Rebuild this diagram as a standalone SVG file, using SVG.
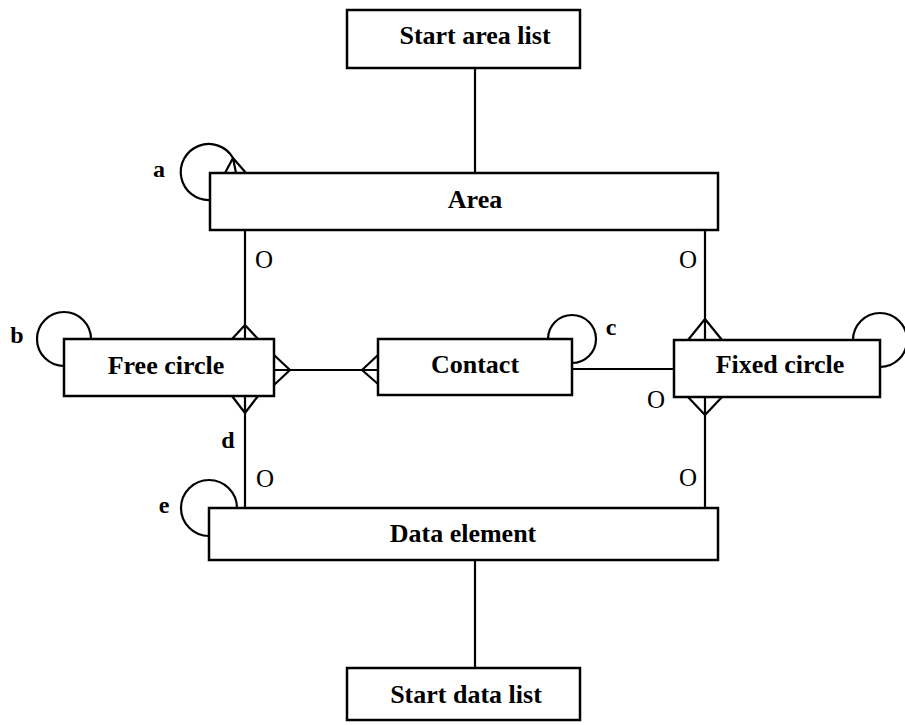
<svg xmlns="http://www.w3.org/2000/svg" width="905" height="725" viewBox="0 0 905 725">
<style>
.box{fill:#fff;stroke:#000;stroke-width:2.5}
.ln{fill:none;stroke:#000;stroke-width:2.2}
.t{font-family:"Liberation Serif",serif;font-weight:bold;font-size:26px;text-anchor:middle;fill:#000}
.l{font-family:"Liberation Serif",serif;font-weight:bold;font-size:24px;text-anchor:middle;fill:#000}
.o{font-family:"Liberation Serif",serif;font-size:25px;text-anchor:middle;fill:#000}
</style>
<rect width="905" height="725" fill="#fff"/>
<g id="connectors">
<path class="ln" d="M475,68 V173"/>
<path class="ln" d="M245,230 V339 M245,325 L232,339 M245,325 L258,339"/>
<path class="ln" d="M245,396 V508 M245,413 L232,396 M245,413 L258,396"/>
<path class="ln" d="M274,370 H378 M290,370 L274,355 M290,370 L274,385 M362,370 L378,355 M362,370 L378,384"/>
<path class="ln" d="M572,369 H674"/>
<path class="ln" d="M705,230 V340 M705,319 L688,340 M705,319 L722,340"/>
<path class="ln" d="M705,397 V508 M705,415 L688,397 M705,415 L722,397"/>
<path class="ln" d="M475,560 V668"/>
<path class="ln" d="M210,200 A28,28 0 1 1 233,158 M233,158 L225,173 M233,158 L236,173 M233,158 L246,173"/>
<path class="ln" d="M64,366 A27,27 0 1 1 91,339"/>
<path class="ln" d="M548,339 A24,24 0 1 1 572,363"/>
<path class="ln" d="M853,340 A27,27 0 1 1 880,367"/>
<path class="ln" d="M209,536 A28,28 0 1 1 237,508"/>
</g>
<g id="start-area-list"><rect class="box" x="347" y="10" width="233" height="58"/><text class="t" x="475" y="44">Start area list</text></g>
<g id="area"><rect class="box" x="210" y="173" width="508" height="57"/><text class="t" x="475" y="208">Area</text></g>
<g id="free-circle"><rect class="box" x="64" y="339" width="210" height="57"/><text class="t" x="166" y="374">Free circle</text></g>
<g id="contact"><rect class="box" x="378" y="339" width="194" height="56"/><text class="t" x="475" y="373">Contact</text></g>
<g id="fixed-circle"><rect class="box" x="674" y="340" width="206" height="57"/><text class="t" x="780" y="373">Fixed circle</text></g>
<g id="data-element"><rect class="box" x="209" y="508" width="509" height="52"/><text class="t" x="463" y="542">Data element</text></g>
<g id="start-data-list"><rect class="box" x="347" y="668" width="233" height="52"/><text class="t" x="466" y="703">Start data list</text></g>
<g id="labels">
<text class="l" x="159" y="177">a</text>
<text class="l" x="17" y="343">b</text>
<text class="l" x="611" y="335">c</text>
<text class="l" x="228" y="448">d</text>
<text class="l" x="164" y="513">e</text>
<text class="o" x="264" y="268">O</text>
<text class="o" x="688" y="268">O</text>
<text class="o" x="656" y="408">O</text>
<text class="o" x="265" y="487">O</text>
<text class="o" x="688" y="486">O</text>
</g>
</svg>
